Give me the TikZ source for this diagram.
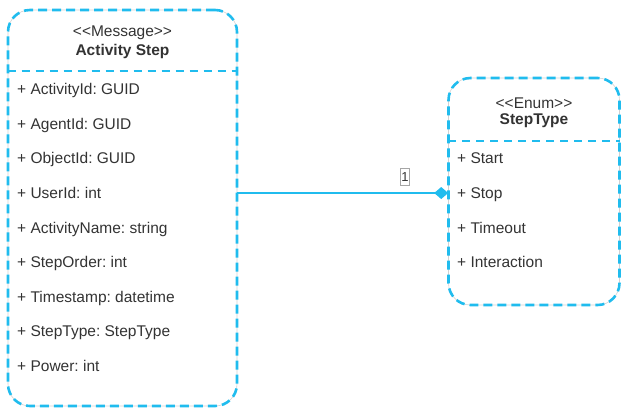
\documentclass[tikz,border=0pt]{standalone}
\usepackage{fontspec}
\setmainfont{Liberation Sans}
\usetikzlibrary{arrows.meta}
\definecolor{umlblue}{RGB}{32,188,238}
\definecolor{umltext}{RGB}{51,51,51}
\frenchspacing
\tikzset{
  classbox/.style={rectangle, rounded corners=22pt, draw=black!18, line width=0.6pt,
    inner sep=0pt,
    postaction={draw=umlblue, line width=2.6pt, dash pattern=on 9pt off 5pt}},
  divider/.style={draw=umlblue, line width=2.6pt, dash pattern=on 8pt off 6pt},
  member/.style={anchor=west, inner sep=0pt, text height=11.5pt, text depth=0pt,
    text=umltext, font=\fontsize{15.5}{18}\selectfont},
  stereo/.style={inner sep=0pt, text=umltext, font=\fontsize{15.5}{18}\selectfont},
  title/.style={inner sep=0pt, text=umltext, font=\fontsize{15.5}{18}\selectfont\bfseries},
  assoc/.style={draw=umlblue, line width=2.6pt, -{Diamond[length=14pt,width=12pt,fill=umlblue]}},
  mult/.style={draw=black!35, line width=0.5pt, inner xsep=0.8pt, inner ysep=0pt,
    minimum height=17pt, text=umltext, font=\fontsize{13}{15}\selectfont}
}
\begin{document}
\begin{tikzpicture}[x=1pt,y=-1pt]
  \useasboundingbox (0,0) rectangle (621,408);

  % ActivityStep class
  \node[classbox, minimum width=229pt, minimum height=396pt] (act) at (122.5,208) {};
  \draw[divider] (act.west |- 0,71) coordinate (actdl) -- (act.east |- 0,71) coordinate (actdr);
  \node[stereo] (actst) at (122.5,33) {{<}{<}Message{>}{>}};
  \node[title] (actti) at (122.5,51) {Activity Step};
  \node[member] (a1) at (17,89)  {+ ActivityId: GUID};
  \node[member] (a2) at (17,124) {+ AgentId: GUID};
  \node[member] (a3) at (17,158) {+ ObjectId: GUID};
  \node[member] (a4) at (17,193) {+ UserId: int};
  \node[member] (a5) at (17,228) {+ ActivityName: string};
  \node[member] (a6) at (17,262) {+ StepOrder: int};
  \node[member] (a7) at (17,297) {+ Timestamp: datetime};
  \node[member] (a8) at (17,331) {+ StepType: StepType};
  \node[member] (a9) at (17,366) {+ Power: int};

  % StepType enumeration
  \node[classbox, minimum width=171pt, minimum height=227pt] (enum) at (534,191.5) {};
  \draw[divider] (enum.west |- 0,141) coordinate (endl) -- (enum.east |- 0,141) coordinate (endr);
  \node[stereo] (enst) at (534,103) {{<}{<}Enum{>}{>}};
  \node[title] (enti) at (534,121) {StepType};
  \node[member] (e1) at (457,158) {+ Start};
  \node[member] (e2) at (457,193) {+ Stop};
  \node[member] (e3) at (457,228) {+ Timeout};
  \node[member] (e4) at (457,262) {+ Interaction};

  % association with multiplicity
  \draw[assoc] (act.east |- 0,193) -- (enum.west |- 0,193);
  \node[mult] (m1) at (405,177) {1};
\end{tikzpicture}
\end{document}
